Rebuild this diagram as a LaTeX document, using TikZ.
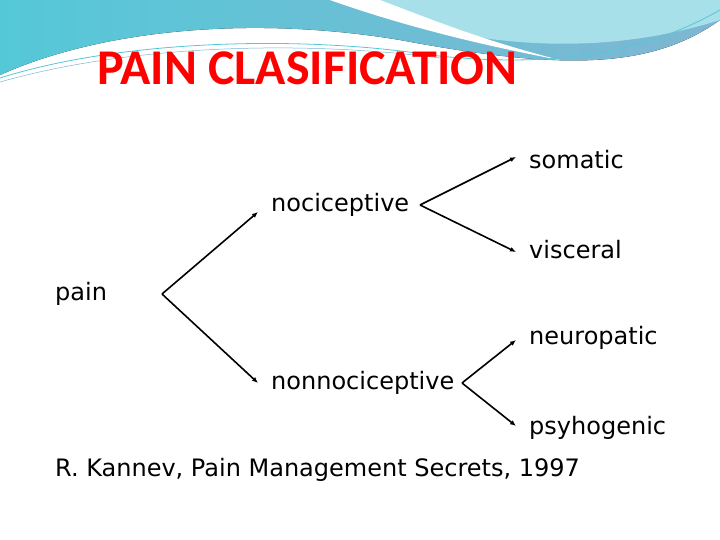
\documentclass[tikz,border=0pt]{standalone}
\usepackage{fontspec}
\setmainfont{DejaVu Sans}
\newfontfamily\titlefont{Carlito}
\usetikzlibrary{arrows.meta}
\definecolor{wavea}{HTML}{55C8D8}
\definecolor{waveb}{HTML}{7FB6D2}
\definecolor{wavec}{HTML}{A8E0EA}
\begin{document}
\begin{tikzpicture}[x=1pt,y=-1pt,
  lbl/.style={anchor=west,inner sep=0pt,font=\fontsize{24}{28}\selectfont},
  arr/.style={-{Latex[length=6pt,width=5pt]},line width=1.6pt}]
\useasboundingbox (0,0) rectangle (720,540);
\fill[white] (0,0) rectangle (720,540);
% background waves
\fill[left color=wavea,right color=waveb]
  (0,0) -- (720,0) -- (720,20) .. controls (650,70) and (560,70) .. (400,40)
  .. controls (250,15) and (100,30) .. (0,75) -- cycle;
\fill[wavec] (330,0) .. controls (420,30) and (560,70) .. (720,20) -- (720,0) -- cycle;
\fill[white] (330,0) .. controls (400,25) and (480,45) .. (560,60) .. controls (480,40) and (420,15) .. (380,0) -- cycle;
\draw[wavea,line width=0.8pt] (0,78) .. controls (120,40) and (300,35) .. (430,55) .. controls (560,70) and (650,50) .. (720,10);
\draw[waveb,line width=0.5pt] (0,82) .. controls (130,45) and (300,40) .. (440,58);
\node[anchor=west,inner sep=0pt,text=red,font=\titlefont\bfseries\fontsize{50}{56}\selectfont] (title) at (97,68) {PAIN CLASIFICATION};
\node[lbl] (som) at (529,160) {somatic};
\node[lbl] (noc) at (271,205) {nociceptive};
\node[lbl] (vis) at (529,250) {visceral};
\node[lbl] (pain) at (55,294) {pain};
\node[lbl] (neu) at (529,338) {neuropatic};
\node[lbl] (non) at (271,383) {nonnociceptive};
\node[lbl] (psy) at (529,428) {psyhogenic};
\node[lbl] (ref) at (55,470) {R. Kannev, Pain Management Secrets, 1997};
\coordinate (a1) at (162,294);
\coordinate (a2) at (420,205);
\coordinate (a3) at (462,383);
\coordinate (t1) at (258,212);
\coordinate (t2) at (258,383);
\coordinate (t3) at (516,157);
\coordinate (t4) at (516,252);
\coordinate (t5) at (516,340);
\coordinate (t6) at (516,426);
\draw[arr] (a1) -- (t1);
\draw[arr] (a1) -- (t2);
\draw[arr] (a2) -- (t3);
\draw[arr] (a2) -- (t4);
\draw[arr] (a3) -- (t5);
\draw[arr] (a3) -- (t6);
\end{tikzpicture}
\end{document}
